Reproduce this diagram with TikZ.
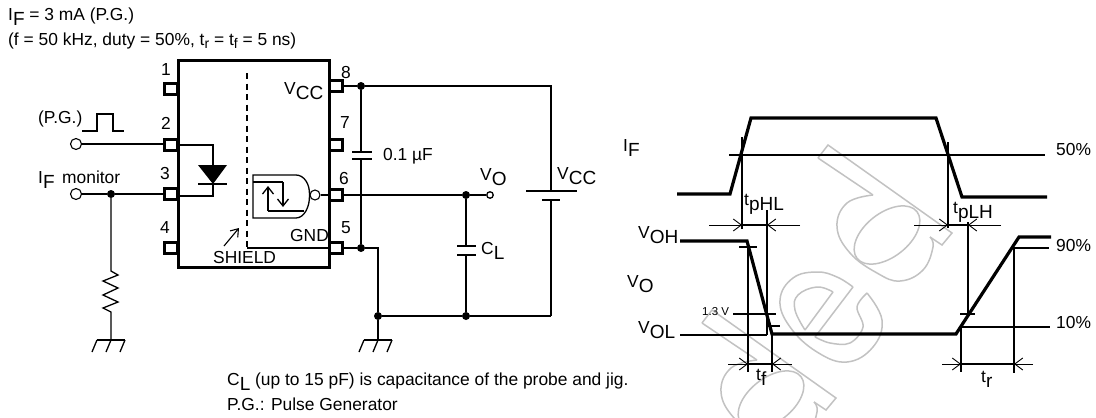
\documentclass[tikz,border=0pt]{standalone}
\usepackage{fontspec}
\setmainfont{Liberation Sans}
\usetikzlibrary{arrows.meta}
\tikzset{
	pin/.style={draw,line width=2.6pt,fill=white,minimum width=12.5pt,minimum height=11.5pt,inner sep=0pt},
	dot/.style={circle,fill=black,inner sep=0pt,minimum size=8pt},
	opendot/.style={circle,draw,fill=white,line width=1.1pt,inner sep=0pt,minimum size=11pt},
	smalldot/.style={circle,draw,fill=white,line width=1.3pt,inner sep=0pt,minimum size=6.5pt},
	wire/.style={line width=1.3pt},
	heavy/.style={line width=1.9pt},
	trace/.style={line width=3.2pt},
	thinline/.style={line width=1.2pt},
	barb/.style={line width=.9pt,-{Straight Barb[length=8pt,width=12pt]}},
	stamp/.style={black!24,line width=1.5pt},
	txt/.style={inner sep=0pt,font=\fontsize{17.4}{19}\selectfont,anchor=base west},
	gnd/.pic={
		\draw[line width=1.3pt] (-14,0) -- (14,0);
		\foreach \xx in {-14,0,14}
			\draw[line width=1.3pt] (\xx,0) -- ++(-5,12);
	},
	letterd/.pic={
		\draw[stamp] (0,0) -- (10,-13) -- (134,75) -- (124,87) -- (112,79);
		\draw[stamp] (0,0) -- (55,37);
		\draw[stamp] plot[smooth,tension=.7] coordinates {(55,37) (29,45) (19,69) (32,95) (59,115) (82,123) (105,112) (115,89) (112,79)};
		\draw[stamp,rotate around={38:(69,77)}] (69,77) ellipse (38 and 22);
	},
}
\newcommand{\lowtxt}[1]{\raisebox{-.55ex}{\fontsize{19}{19}\selectfont #1}}
\newcommand{\lowsmall}[1]{\raisebox{-.4ex}{\fontsize{14}{14}\selectfont #1}}
\begin{document}
\begin{tikzpicture}[x=1pt,y=-1pt]
	\useasboundingbox (0,0) rectangle (1096,418);
	% faint stamp behind the timing chart
	\begin{scope}
		\clip (0,0) rectangle (1096,418);
		\pic at (818,158) {letterd};
		\pic at (702,323) {letterd};
		\draw[stamp] plot[smooth,tension=.6] coordinates {(815,337) (830,343) (850,343) (863,327) (857,307) (867,293)};
		\draw[stamp] (853,287) -- (815,337);
		\draw[stamp] plot[smooth,tension=.7] coordinates {(867,293) (882,320) (873,347) (847,362) (817,352) (790,327) (780,300) (793,278) (817,272) (837,277) (853,287)};
		\draw[stamp] (833,292) -- (805,330);
		\draw[stamp] plot[smooth,tension=.7] coordinates {(805,330) (795,310) (798,295) (817,287) (833,292)};
	\end{scope}
	% text on top
	\node[txt] (ifvalue) at (8,20) {I\lowtxt{F} = 3 mA (P.G.)};
	\node[txt] (pgdata) at (8,45) {(f = 50 kHz, duty = 50\%, t\lowsmall{r} = t\lowsmall{f} = 5 ns)};
	% package
	\draw[line width=3pt] (178,60) rectangle (329,267);
	\node[pin] (p1) at (171,89) {};
	\node[pin] (p2) at (171,145) {};
	\node[pin] (p3) at (171,194) {};
	\node[pin] (p4) at (171,248) {};
	\node[pin] (p8) at (336,86) {};
	\node[pin] (p7) at (336,145) {};
	\node[pin] (p6) at (336,195) {};
	\node[pin] (p5) at (336,248) {};
	\node[txt] at (161,75) {1};
	\node[txt] at (161,129) {2};
	\node[txt] at (160,179) {3};
	\node[txt] at (160,233) {4};
	\node[txt] at (341,78) {8};
	\node[txt] at (340,128) {7};
	\node[txt] at (339,184) {6};
	\node[txt] at (341,233) {5};
	\node[txt] (vccin) at (284,94) {V\lowtxt{CC}};
	\node[txt] (gndlab) at (290,241) {GND};
	\node[txt] (shield) at (213,263) {SHIELD};
	% shield
	\coordinate (shieldtop) at (247,73);
	\coordinate (shieldbot) at (247,248);
	\draw[line width=1.3pt,dash pattern=on 6pt off 4.5pt] (shieldtop) -- (shieldbot);
	\draw[wire] (shieldbot) -- (p5);
	\draw[line width=1.1pt,-{Straight Barb[length=7pt,width=10pt]}] (224,246) -- (239,228);
	% led
	\coordinate (ledtop) at (213,145);
	\coordinate (ledbot) at (213,196);
	\draw[wire] (p2) -- (ledtop) -- (ledbot) -- (ledbot -| p3.east);
	\fill (198,165) -- (227,165) -- (213,184) -- cycle;
	\draw[wire] (198,184) -- (227,184);
	% gate
	\node[opendot,minimum size=10pt] (gateout) at (315,195) {};
	\draw[wire] (296,175) -- (253,175) -- (253,218) -- (296,218) .. controls (304,218) and (310,207) .. (gateout.west) .. controls (310,184) and (304,175) .. (296,175);
	\draw[wire] (253,182) -- (283,182);
	\draw[wire,-{Straight Barb[length=7pt,width=11pt]}] (283,182) -- (283,207);
	\draw[wire,-{Straight Barb[length=7pt,width=11pt]}] (268,211) -- (268,186);
	\draw[wire] (268,211) -- (304,211);
	\draw[wire] (gateout) -- (p6);
	% left side
	\node[opendot] (pgin) at (76,144) {};
	\draw[wire] (pgin) -- (pgin -| p2.west);
	\node[txt] (pgtext) at (38,123) {(P.G.)};
	\draw[wire] (82,131) -- (97,131) -- (97,114) -- (113,114) -- (113,131) -- (124,131);
	\node[opendot] (mon) at (76,194) {};
	\node[dot] (mondot) at (111,194) {};
	\draw[wire] (mon) -- (mondot) -- (p3);
	\node[txt] (montext) at (38,183) {I\lowtxt{F}};
	\node[txt] (montext2) at (62,183) {monitor};
	\coordinate (rtop) at (111,271);
	\coordinate (gndl) at (111,340);
	\draw[wire] (mondot) -- (rtop) -- (118,275) -- (103,281) -- (118,288) -- (103,295) -- (118,302) -- (103,308) -- (111,312) -- (gndl);
	\pic at (gndl) {gnd};
	% right side
	\node[dot] (j8) at (361,86) {};
	\node[dot] (j5) at (361,248) {};
	\coordinate (conetop) at (361,152);
	\coordinate (conebot) at (361,159);
	\draw[wire] (p8) -- (j8) -- (conetop);
	\draw[heavy] (352,152) -- (372,152) (352,159) -- (372,159);
	\draw[heavy] (conebot) -- (j5);
	\draw[wire] (p5) -- (j5);
	\node[txt] (conelab) at (383,160) {0.1 µF};
	\node[dot] (j6) at (466,195) {};
	\node[smalldot] (vo) at (490,195) {};
	\draw[heavy] (p6) -- (j6) -- (vo);
	\node[txt] (volab) at (480,180) {V\lowtxt{O}};
	\coordinate (jfive) at (378,248);
	\node[dot] (jzero) at (378,316) {};
	\node[dot] (jc) at (466,316) {};
	\coordinate (br) at (551,316);
	\coordinate (tr) at (551,86);
	\coordinate (battop) at (551,191);
	\coordinate (batbot) at (551,200);
	\draw[wire] (j5) -- (jfive) -- (jzero);
	\draw[heavy] (jzero) -- (jc) -- (br);
	\draw[wire] (br) -- (batbot);
	\draw[wire] (j8) -- (tr) -- (battop);
	\draw[wire] (526,191) -- (577,191);
	\draw[heavy] (542,200) -- (560,200);
	\node[txt] (vcclab) at (557,179) {V\lowtxt{CC}};
	\coordinate (cltop) at (466,246);
	\coordinate (clbot) at (466,255);
	\draw[heavy] (j6) -- (cltop);
	\draw[heavy] (457,246) -- (476,246) (457,255) -- (476,255);
	\draw[wire] (clbot) -- (jc);
	\node[txt] (cllab) at (481,254) {C\lowtxt{L}};
	\coordinate (gndr) at (378,340);
	\draw[wire] (jzero) -- (gndr);
	\pic at (gndr) {gnd};
	% notes
	\node[txt] (note1) at (227,385) {C\lowtxt{L} (up to 15 pF) is capacitance of the probe and jig.};
	\node[txt] (note2) at (227,410) {P.G.: Pulse Generator};
	% timing chart
	\node[txt] (iflab) at (623,151) {I\lowtxt{F}};
	\node[txt] (vohlab) at (638,238) {V\lowtxt{OH}};
	\node[txt] (volab2) at (627,287) {V\lowtxt{O}};
	\node[txt] (vollab) at (638,333) {V\lowtxt{OL}};
	\node[txt] (fifty) at (1056,155) {50\%};
	\node[txt] (ninety) at (1056,251) {90\%};
	\node[txt] (ten) at (1056,328) {10\%};
	\node[txt,font=\fontsize{11.5}{13}\selectfont] (onethree) at (702,315) {1.3 V};
	\node[txt] (tphl) at (744,205) {t\lowtxt{pHL}};
	\node[txt] (tplh) at (953,213) {t\lowtxt{pLH}};
	\node[txt] (tflab) at (756,380) {t\lowtxt{f}};
	\node[txt] (trlab) at (981,382) {t\lowtxt{r}};
	\draw[trace] (677,194) -- (730,194) -- (751,118) -- (936,118) -- (962,197) -- (1047,197);
	\draw[trace] (680,241) -- (747,241) -- (772,334) -- (956,334) -- (1019,237) -- (1051,237);
	\draw[line width=1.6pt] (729,155) -- (1045,155);
	% levels
	\draw[thinline] (739,247) -- (757,247);
	\draw[thinline] (733,314) -- (776,314);
	\draw[thinline] (766,326) -- (780,326);
	\draw[thinline] (680,335) -- (767,335);
	\draw[thinline] (960,314) -- (975,314);
	\draw[thinline] (961,327) -- (1050,327);
	\draw[thinline] (1014,248) -- (1049,248);
	% time marks
	\draw[thinline] (742,137) -- (742,229);
	\draw[thinline] (767,210) -- (767,335);
	\draw[thinline] (748,247) -- (748,372);
	\draw[thinline] (772,333) -- (772,372);
	\draw[thinline] (948,142) -- (948,228);
	\draw[thinline] (968,222) -- (968,315);
	\draw[thinline] (961,327) -- (961,372);
	\draw[thinline] (1014,248) -- (1014,373);
	\draw[thinline] (742,225) -- (767,225);
	\draw[thinline] (748,364) -- (772,364);
	\draw[thinline] (948,225) -- (968,225);
	\draw[thinline] (961,364) -- (1014,364);
	\draw[barb] (709,225) -- (742,225);
	\draw[barb] (800,225) -- (767,225);
	\draw[barb] (728,364) -- (748,364);
	\draw[barb] (792,364) -- (772,364);
	\draw[barb] (914,225) -- (948,225);
	\draw[barb] (1001,225) -- (968,225);
	\draw[barb] (942,364) -- (961,364);
	\draw[barb] (1033,364) -- (1014,364);
\end{tikzpicture}
\end{document}
